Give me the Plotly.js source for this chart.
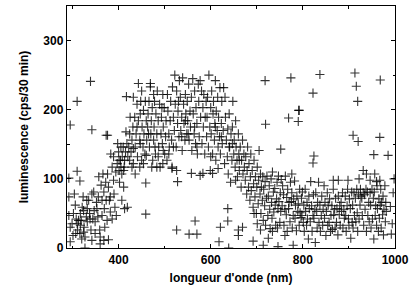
<!DOCTYPE html>
<html>
<head>
<meta charset="utf-8">
<script src="https://cdn.plot.ly/plotly-3.0.1.min.js"></script>
<style>html,body{margin:0;padding:0;background:#fff;}#chart{width:413px;height:295px;}</style>
</head>
<body>
<div id="chart"></div>
<script>
// [wavelength (nm), luminescence (cps/30 min)], grouped by band
const band_290_375 = [[292,74],[292,47],[295,30],[295,9],[304,78],[306,62],[308,42],[310,35],[311,26],[316,21],[317,50],[319,40],[321,59],[323,74],[324,54],[325,30],[327,16],[327,0],[330,45],[331,69],[320,13],[313,40],[302,50],[307,21],[332,57],[332,38],[324,23],[317,33],[299,35],[301,18],
[335,69],[337,50],[340,26],[342,11],[346,81],[347,54],[349,38],[352,66],[355,45],[357,103],[359,26],[360,6],[362,91],[364,69],[364,47],[366,107],[368,81],[369,57],[370,30],[372,95],[373,69],[375,40],[360,16],[353,57],[344,42],[338,42],[349,21],[342,78],[356,74],[368,11],[378,12],
[292,101],[310,111],[316,97],[339,241],[310,212],[295,178],[342,171],[373,163],[376,163]];
const band_375_460 = [[376,107],[378,88],[380,69],[382,52],[383,136],[386,117],[389,98],[390,78],[392,59],[395,47],[397,122],[398,151],[400,139],[401,112],[402,95],[404,127],[405,117],[407,107],[408,132],[410,146],[411,88],[412,117],[413,127],[415,139],[416,168],[418,151],[419,59],[413,57],[407,69],[401,127],[394,110],[389,132],[382,74],[386,42],[405,146],[411,112],
[420,132],[422,146],[424,165],[425,189],[427,139],[429,156],[431,175],[432,122],[435,189],[436,146],[438,165],[440,208],[441,132],[443,184],[446,156],[447,194],[448,212],[450,127],[451,175],[453,146],[454,199],[455,165],[457,136],[458,212],[460,184],[461,156],[429,117],[436,107],[446,117],[454,122],[460,134],[447,151],[440,175],[432,144],[424,127],[450,227],
[443,238],[469,238],[417,219],[432,218],[459,94],[459,49]];
const band_460_548 = [[463,175],[464,194],[466,212],[467,146],[469,233],[470,165],[471,184],[473,203],[474,127],[476,156],[477,175],[478,212],[480,136],[481,194],[483,165],[484,227],[486,184],[487,146],[489,208],[490,117],[492,165],[493,189],[495,151],[496,222],[497,175],[499,203],[500,136],[502,161],[503,184],[505,127],[472,117],[483,117],[496,122],[479,146],[465,165],[486,132],[497,141],[494,203],[476,222],
[506,222],[507,198],[509,165],[510,146],[512,184],[513,212],[515,156],[516,117],[517,233],[519,189],[521,170],[522,250],[523,208],[525,146],[526,227],[528,180],[529,198],[531,161],[532,242],[534,218],[535,170],[537,189],[538,141],[539,246],[541,208],[542,180],[544,156],[545,222],[546,194],[548,165],[516,115],[526,112],[537,161],[545,184],[509,136],[519,146],[530,212],
[526,26],[553,20],[570,20],[566,39],[528,96]];
const band_548_635 = [[549,212],[550,184],[552,237],[553,156],[555,198],[556,175],[558,218],[559,141],[561,245],[562,194],[564,165],[565,227],[567,151],[568,203],[570,180],[571,136],[573,237],[574,212],[575,161],[577,242],[578,189],[580,227],[581,151],[583,203],[584,175],[585,222],[587,136],[588,189],[590,212],[591,161],[577,105],[583,108],[570,146],[558,108],[551,165],[565,175],
[592,189],[593,218],[595,146],[596,250],[598,175],[599,112],[600,203],[601,165],[602,227],[604,136],[605,194],[606,212],[608,156],[609,180],[610,242],[611,127],[612,198],[614,170],[615,218],[616,146],[617,189],[619,161],[620,232],[621,136],[623,180],[624,212],[625,151],[627,170],[628,232],[630,122],[604,108],[616,115],[610,175],[600,132],[623,161],
[618,9],[621,30],[637,57],[637,39],[639,0]];
const band_635_716 = [[631,218],[632,189],[634,156],[636,132],[637,172],[638,107],[640,194],[641,146],[643,95],[644,165],[646,127],[647,175],[648,212],[650,136],[651,156],[653,117],[654,184],[655,146],[657,127],[658,103],[660,165],[661,136],[662,112],[664,146],[666,88],[667,127],[669,156],[670,107],[672,136],[673,117],[640,146],[654,98],[662,127],[647,151],
[675,98],[676,132],[678,78],[679,112],[680,146],[682,88],[683,122],[685,69],[686,103],[687,136],[688,83],[690,112],[692,59],[693,93],[694,127],[696,74],[697,103],[699,50],[700,88],[701,117],[703,64],[704,98],[705,141],[707,78],[708,107],[709,50],[710,88],[712,69],[713,103],[714,40],[694,50],[701,35],[708,26],
[660,18],[660,26],[669,30],[692,10],[714,4]];
const band_716_803 = [[715,85],[717,61],[718,96],[719,33],[721,72],[722,104],[724,47],[725,75],[727,90],[728,56],[729,28],[731,100],[732,66],[733,43],[734,110],[736,81],[737,52],[739,86],[740,62],[741,33],[743,71],[744,95],[746,57],[747,104],[748,67],[750,37],[751,80],[752,53],[753,99],[755,61],[734,24],[745,29],[725,14],
[756,90],[758,77],[759,33],[761,56],[762,104],[764,48],[765,73],[766,24],[767,85],[769,57],[770,66],[772,38],[773,95],[775,67],[776,80],[777,29],[779,47],[780,71],[782,97],[783,43],[784,62],[786,25],[787,75],[789,53],[790,64],[792,33],[793,85],[794,51],[796,44],[797,72],
[746,2],[761,18],[779,4],[718,242],[719,179],[774,246],[769,188],[791,199],[790,183],[792,199],[752,143],[776,107]];
const band_803_889 = [[798,47],[799,81],[801,37],[802,62],[803,24],[805,85],[806,53],[808,33],[809,66],[810,42],[812,13],[813,75],[814,57],[816,38],[817,96],[819,61],[820,24],[822,47],[823,77],[824,43],[826,56],[827,8],[828,80],[830,53],[831,29],[832,66],[834,95],[835,37],[837,62],[838,24],
[840,47],[841,75],[843,33],[844,56],[846,90],[847,43],[848,66],[850,18],[851,53],[853,80],[854,33],[855,62],[857,37],[858,71],[860,24],[861,47],[863,61],[864,27],[866,85],[867,48],[869,56],[870,29],[871,72],[873,37],[874,57],[876,19],[877,75],[879,48],[880,61],[881,33],
[822,224],[837,251],[824,133],[822,123],[866,98],[877,98]];
const band_889_1000 = [[883,66],[884,53],[886,80],[887,29],[889,56],[890,43],[892,75],[893,47],[894,24],[896,61],[897,85],[899,42],[900,33],[901,71],[903,57],[904,14],[906,81],[907,37],[908,62],[909,29],[911,80],[912,47],[914,72],[915,38],[917,85],[918,51],[919,24],[921,77],[922,42],[924,62],
[925,85],[926,75],[928,72],[929,47],[931,80],[932,33],[934,77],[935,56],[937,85],[938,24],[940,81],[941,47],[943,66],[944,38],[946,80],[947,62],[948,29],[950,85],[951,42],[953,72],[954,13],[955,81],[957,47],[958,61],[960,33],[961,90],[962,57],[964,24],[965,71],[966,43],[968,62],[969,85],[970,29],[971,66],[973,48],[974,75],[975,19],[976,56],[978,90],[979,38],[980,66],[981,53],[931,112],[938,107],[946,98],[956,107],[960,96],[967,98],
[913,253],[916,234],[919,212],[909,163],[920,154],[968,243],[967,160],[954,135],[985,134],[922,100],[898,98],[998,100],[990,60],[994,35],[996,80],[992,20]];

const bands = [band_290_375, band_375_460, band_460_548, band_548_635, band_635_716, band_716_803, band_803_889, band_889_1000];
const pts = [].concat(...bands);
const xs = pts.map(p => p[0]);
const ys = pts.map(p => p[1]);

const xTickVals = [400, 600, 800, 1000];
const yTickVals = [0, 100, 200, 300];

const fontFam = '"Liberation Sans", Arial, sans-serif';
const axisCommon = {
  showline: true, linecolor: '#000', linewidth: 1.2, mirror: 'allticks',
  ticks: 'inside', ticklen: 4, tickwidth: 1, tickcolor: '#000',
  showgrid: false, zeroline: false,
  tickfont: {family: fontFam, size: 12, color: '#000', weight: 'bold'},
  minor: {ticks: 'inside', ticklen: 2.5, tickwidth: 1, tickcolor: '#000', showgrid: false}
};

const trace = {
  x: xs, y: ys, type: 'scatter', mode: 'markers',
  marker: {symbol: 'cross-thin-open', size: 6.5, color: 'rgba(0,0,0,0.8)', line: {width: 1.1, color: 'rgba(0,0,0,0.8)'}},
  hoverinfo: 'none'
};

const layout = {
  width: 413, height: 295,
  margin: {l: 67, r: 18, t: 6, b: 47},
  paper_bgcolor: '#fff', plot_bgcolor: '#fff',
  showlegend: false,
  xaxis: Object.assign({}, axisCommon, {
    range: [288, 1000], tickvals: xTickVals, ticktext: xTickVals.map(String),
    minor: Object.assign({}, axisCommon.minor, {dtick: 100, tick0: 0}),
    title: {text: "longueur d'onde (nm)", font: {family: fontFam, size: 12, color: '#000', weight: 'bold'}, standoff: 8}
  }),
  yaxis: Object.assign({}, axisCommon, {
    range: [0, 350], tickvals: yTickVals, ticktext: yTickVals.map(String),
    minor: Object.assign({}, axisCommon.minor, {dtick: 50, tick0: 0}),
    title: {text: 'luminescence (cps/30 min)', font: {family: fontFam, size: 12, color: '#000', weight: 'bold'}, standoff: 12}
  })
};

Plotly.newPlot('chart', [trace], layout, {displayModeBar: false, staticPlot: true});
</script>
</body>
</html>
